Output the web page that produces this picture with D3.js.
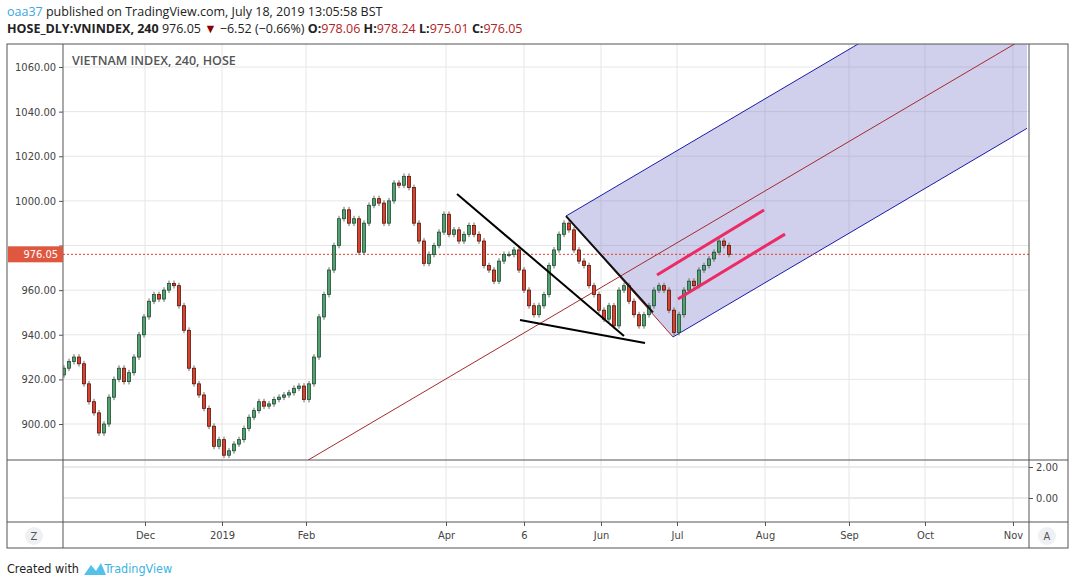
<!DOCTYPE html>
<html><head><meta charset="utf-8">
<script src="https://cdn.jsdelivr.net/npm/d3@7"></script>
<style>body{margin:0;background:#fff}svg{display:block}</style>
</head><body><svg id="c" width="1073" height="586"></svg>
<script>
// closes, one per 4h candle (open = previous close)
var closes = [925,928,930,927,918,910,905,896,900,912,920,925,919,923,930,940,948,955,958,956,
  960,963,962,953,942,925,918,913,907,899,890,893,886,888,891,893,898,903,906,910,
  908,909,911,912,913,914,916,917,911,918,930,948,958,969,980,992,996,990,992,977,
  990,998,1001,999,990,1000,1008,1007,1011,1006,990,982,972,976,980,986,994,985,987,982,
  985,989,985,982,971,969,964,973,976,976,978,969,960,953,949,953,958,971,978,985,
  990,987,978,973,971,962,958,951,947,953,944,960,962,955,949,944,949,953,960,962,
  960,951,941,949,960,964,962,969,971,974,977,982,980,976];
var firstOpen = 922;
var priceTicks = [900,920,940,960,980,1000,1020,1040,1060];
var timeTicks = [16.2,31.6,48.4,76.4,92,107.4,122.6,140.2,157,172.2,189.8];
var timeLabels = ["Dec","2019","Feb","Apr","6","Jun","Jul","Aug","Sep","Oct","Nov"];
var lastPrice = 976.05;
// drawings: [idx, price] pairs
var wedgeTop = [[78.6,1003.1],[112,939.4]];
var wedgeBot = [[91.2,946.6],[116.2,936.3]];
var forkUpper = [[100.4,993.2],[192.6,1114.9]];
var forkLower = [[121.8,939.0],[192.6,1032.5]];
var forkMedian = [[48.8,883.8],[192.6,1073.6]];
var forkHandle = [[100.4,993.2],[121.8,939.0]];
var forkHandleBold = [[100.4,993.2],[117.8,950]];
var chanUp = [[118.6,966.8],[140,995.9]];
var chanDn = [[122.8,956],[144.2,985.1]];
var lowerTicks = [0,2];

var svg = d3.select("#c");
var L = 63, R = 1029, T = 44, B = 460;
var x = d3.scaleLinear().domain([0,193]).range([64,1029]);
var y = d3.scaleLinear().domain([900,1060]).range([424,67]);
var y2 = d3.scaleLinear().domain([0,2]).range([498,467]);
var font = "'DejaVu Sans Condensed','Liberation Sans',sans-serif";

svg.append("defs").append("clipPath").attr("id","pane")
  .append("rect").attr("x",L).attr("y",T).attr("width",R-L).attr("height",B-T);

// header
var h1 = svg.append("text").attr("x",7).attr("y",16).attr("font-family","'Open Sans',sans-serif").attr("font-size",12.5);
h1.append("tspan").attr("fill","#3ba6e3").text("oaa37");
h1.append("tspan").attr("fill","#222").text(" published on TradingView.com, July 18, 2019 13:05:58 BST");
var h2 = svg.append("text").attr("x",7).attr("y",33).attr("font-family","'Open Sans',sans-serif").attr("font-size",12.5).attr("fill","#222");
h2.append("tspan").attr("font-weight","bold").text("HOSE_DLY:VNINDEX, 240 ");
h2.append("tspan").text("976.05 ");
h2.append("tspan").attr("fill","#8b0000").text("▼");
h2.append("tspan").text(" −6.52 (−0.66%) ");
[["O:","978.06"],["H:","978.24"],["L:","975.01"],["C:","976.05"]].forEach(function(p){
  h2.append("tspan").attr("font-weight","bold").text(p[0]);
  h2.append("tspan").attr("fill","#b22222").text(p[1]+" ");
});

// grid
var g = svg.append("g");
g.selectAll(".hg").data(priceTicks).enter().append("line")
  .attr("x1",L).attr("x2",R).attr("y1",function(d){return y(d);}).attr("y2",function(d){return y(d);})
  .attr("stroke","#e6e6e6");
g.selectAll(".vg").data(timeTicks).enter().append("line")
  .attr("x1",function(d){return x(d);}).attr("x2",function(d){return x(d);})
  .attr("y1",T).attr("y2",522).attr("stroke","#e6e6e6");
g.selectAll(".lg").data(lowerTicks).enter().append("line")
  .attr("x1",L).attr("x2",R).attr("y1",function(d){return y2(d);}).attr("y2",function(d){return y2(d);})
  .attr("stroke","#e3e3e3").attr("stroke-width",1.5);

var pane = svg.append("g").attr("clip-path","url(#pane)");
var line = d3.line().x(function(d){return x(d[0]);}).y(function(d){return y(d[1]);});

// pitchfork fill
var fillPts = [forkUpper[0], forkUpper[1], forkLower[1], forkLower[0]];
pane.append("path").attr("d", line(fillPts)+"Z").attr("fill","rgba(110,110,200,0.32)");
pane.append("path").attr("d",line(forkUpper)).attr("stroke","#1c1ca8").attr("fill","none");
pane.append("path").attr("d",line(forkLower)).attr("stroke","#1c1ca8").attr("fill","none");
pane.append("path").attr("d",line(forkMedian)).attr("stroke","#a52a2a").attr("fill","none");
pane.append("path").attr("d",line(forkHandle)).attr("stroke","#a52a2a").attr("fill","none");

// last price line
pane.append("line").attr("x1",L).attr("x2",R).attr("y1",y(lastPrice)).attr("y2",y(lastPrice))
  .attr("stroke","#e8392c").attr("stroke-dasharray","2,2");

// candles
var bw = 3;
closes.forEach(function(c,i){
  var o = i === 0 ? firstOpen : closes[i-1];
  var up = c >= o;
  var hi = Math.max(o,c)+1.3, lo = Math.min(o,c)-1.3;
  var cx = x(i);
  pane.append("line").attr("x1",cx).attr("x2",cx).attr("y1",y(hi)).attr("y2",y(lo)).attr("stroke","#6b6b6b");
  var top = y(Math.max(o,c)), bot = y(Math.min(o,c));
  pane.append("rect").attr("x",cx-bw/2).attr("y",top).attr("width",bw).attr("height",Math.max(1,bot-top))
    .attr("fill", up ? "#53a070" : "#d8432f").attr("stroke", up ? "#1e4d30" : "#5a1208").attr("stroke-width",0.8);
});

// trend lines
[wedgeTop, wedgeBot].forEach(function(s){
  pane.append("path").attr("d",line(s)).attr("stroke","#000").attr("stroke-width",2).attr("fill","none");
});
pane.append("path").attr("d",line(forkHandleBold)).attr("stroke","#111").attr("stroke-width",2).attr("fill","none");
[chanUp, chanDn].forEach(function(s){
  pane.append("path").attr("d",line(s)).attr("stroke","#ec2a66").attr("stroke-width",3).attr("fill","none");
});

// pane title
svg.append("text").attr("x",72).attr("y",65).attr("font-family","'Open Sans',sans-serif")
  .attr("font-size",12.5).attr("font-weight","600").attr("fill","#555").text("VIETNAM INDEX, 240, HOSE");

// frames
var fr = svg.append("g").attr("stroke","#555").attr("fill","none");
fr.append("rect").attr("x",7).attr("y",T).attr("width",1061).attr("height",548-T);
fr.append("line").attr("x1",L).attr("x2",L).attr("y1",T).attr("y2",548);
fr.append("line").attr("x1",R).attr("x2",R).attr("y1",T).attr("y2",548);
fr.append("line").attr("x1",7).attr("x2",1068).attr("y1",B).attr("y2",B);
fr.append("line").attr("x1",7).attr("x2",1068).attr("y1",522).attr("y2",522);

// left price axis (the 980 label sits under the last-price tag)
var pa = svg.append("g").attr("transform","translate("+L+",0)")
  .call(d3.axisLeft(y).tickValues(priceTicks).tickSize(4).tickFormat(d3.format(".2f")));
pa.select(".domain").remove();
pa.selectAll("line").attr("stroke","#555");
pa.selectAll("text").attr("font-family",font).attr("font-size",11).attr("fill","#444");
pa.selectAll(".tick").filter(function(d){return d === 980;}).select("text").attr("display","none");

// last price label
svg.append("rect").attr("x",8).attr("y",y(lastPrice)-8).attr("width",L-8).attr("height",16).attr("fill","#e0573f");
svg.append("text").attr("x",L-5).attr("y",y(lastPrice)+4).attr("text-anchor","end")
  .attr("font-family",font).attr("font-size",11).attr("fill","#fff").text(d3.format(".2f")(lastPrice));

// lower pane axis (right)
var ra = svg.append("g").attr("transform","translate("+R+",0)")
  .call(d3.axisRight(y2).tickValues(lowerTicks).tickSize(4).tickFormat(d3.format(".2f")));
ra.select(".domain").remove();
ra.selectAll("line").attr("stroke","#555");
ra.selectAll("text").attr("font-family",font).attr("font-size",11).attr("fill","#444");

// time axis
var ta = svg.append("g").attr("transform","translate(0,522)")
  .call(d3.axisBottom(x).tickValues(timeTicks).tickSize(4).tickFormat(function(d,i){return timeLabels[i];}));
ta.select(".domain").remove();
ta.selectAll("line").attr("stroke","#555");
ta.selectAll("text").attr("font-family",font).attr("font-size",11).attr("fill","#444").attr("dy","0.9em");

// Z / A buttons
[[34,"Z"],[1047,"A"]].forEach(function(b){
  svg.append("circle").attr("cx",b[0]).attr("cy",536).attr("r",9).attr("fill","#eef0f3");
  svg.append("text").attr("x",b[0]).attr("y",540).attr("text-anchor","middle")
    .attr("font-family",font).attr("font-size",11).attr("fill","#555").text(b[1]);
});

// footer
var f = svg.append("text").attr("x",7).attr("y",573).attr("font-family",font).attr("font-size",12.5);
f.append("tspan").attr("fill","#222").text("Created with ");
f.append("tspan").attr("fill","#3bb3e4").attr("dx",22).text("TradingView");
svg.append("path").attr("d","M84,575 L91,565 L96,571 L101,563 L106,575 Z").attr("fill","#53c1ea");
</script></body></html>
